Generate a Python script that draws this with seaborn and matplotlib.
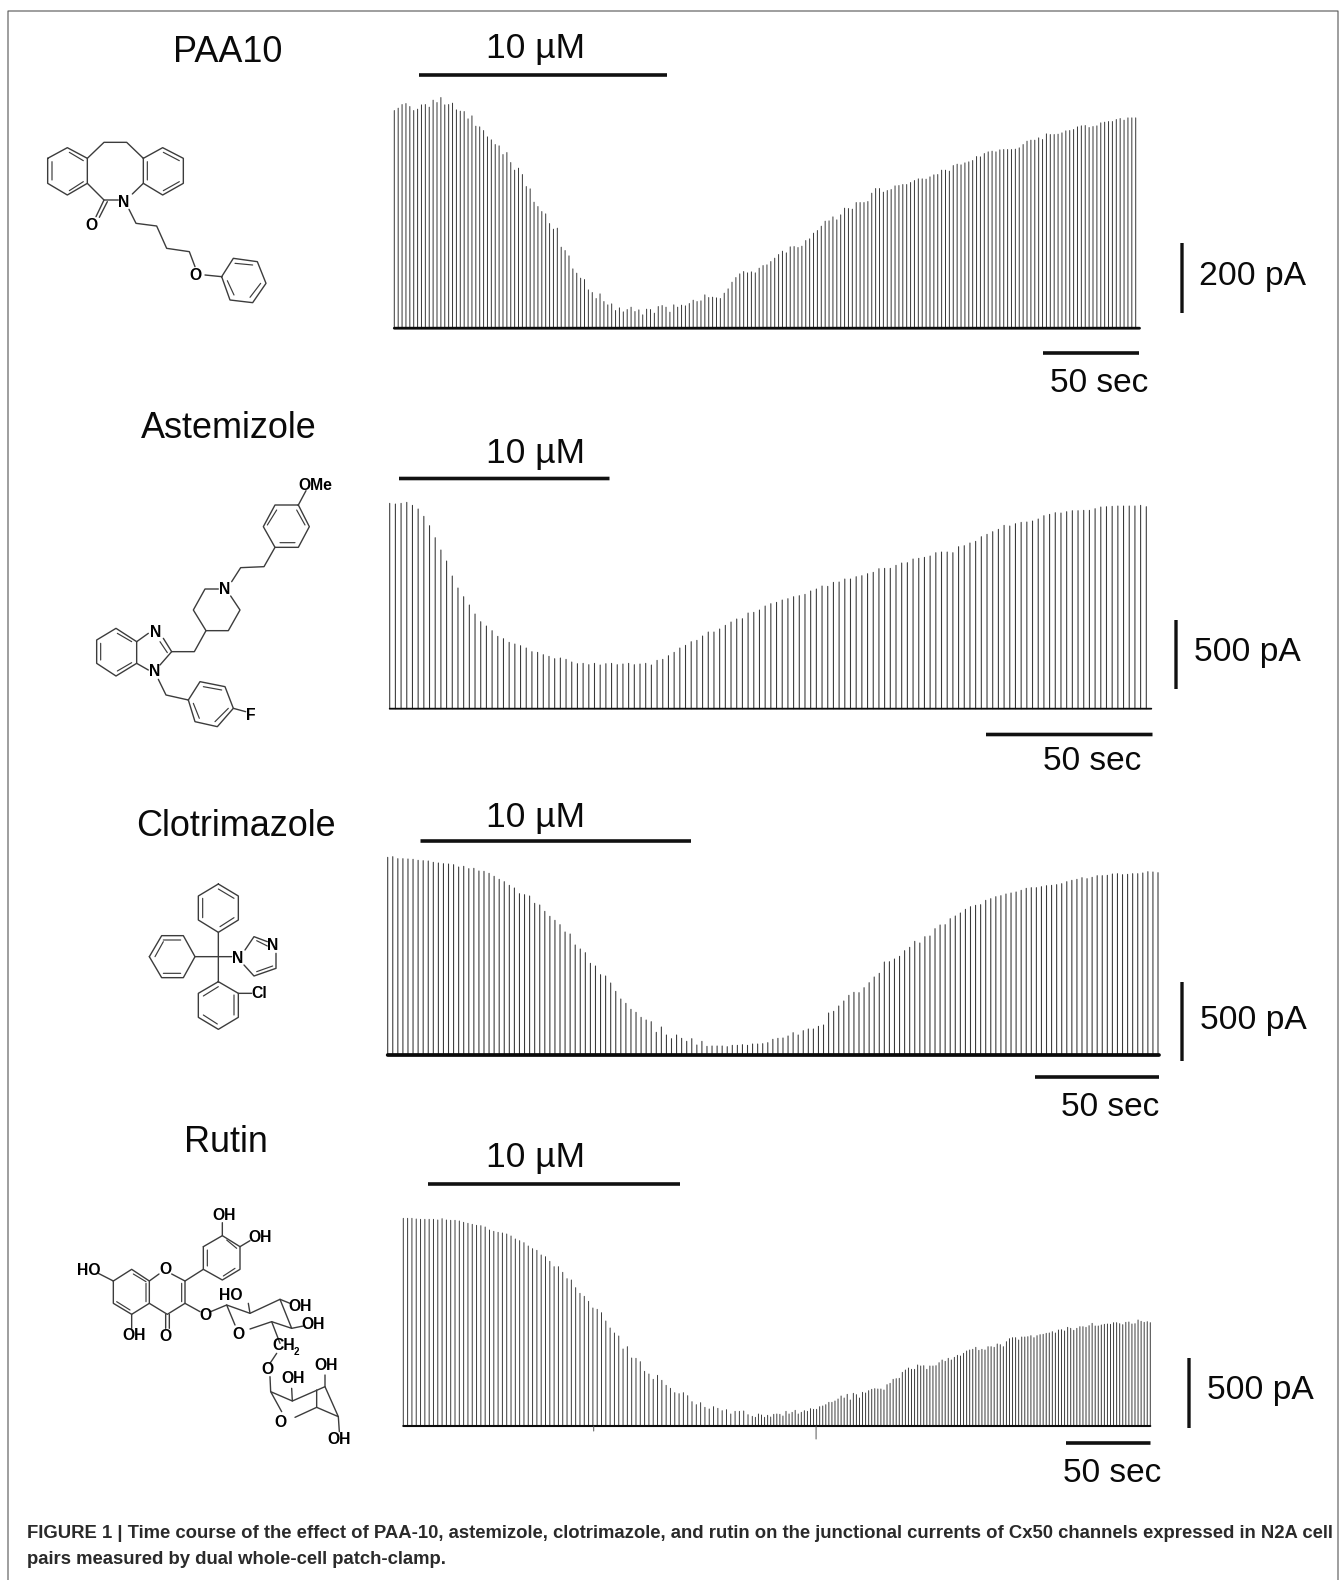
import numpy as np
import pandas as pd
import matplotlib
matplotlib.use("Agg")
import matplotlib.pyplot as plt
import seaborn as sns

# ---------- data: peak amplitudes read against each trace's calibration bar
# (amplitudes are in reading units; 210 units = the 200 pA bar in PAA10 etc.)
paa10_peaks = [653,660,671,674,665,653,657,670,671,663,684,677,692,670,671,675,655,651,650,628,637,606,604,593,574,565,551,547,521,527,497,474,480,461,425,418,378,365,350,343,314,297,300,243,233,217,178,165,150,146,115,107,89,103,80,70,73,53,61,49,56,63,50,55,40,57,56,45,65,68,63,48,70,63,69,67,74,84,80,82,100,92,93,91,89,105,118,138,152,163,170,166,169,166,180,
188,190,200,210,221,231,226,244,245,242,246,263,268,285,293,306,321,322,334,325,340,360,359,357,377,377,377,380,405,419,419,408,413,416,427,428,431,431,437,443,448,448,447,454,460,461,474,474,471,488,492,490,496,499,503,515,514,524,529,531,529,535,536,536,536,537,541,551,561,564,564,571,566,583,581,581,582,586,592,593,596,604,607,608,602,605,607,616,618,620,620,626,629,624,631,631,631]
astemizole_peaks = [616,614,616,619,610,599,577,549,513,476,443,398,362,336,311,284,261,248,234,217,210,199,194,189,182,171,169,162,157,150,152,148,140,135,136,132,136,131,135,136,132,134,136,132,134,136,131,145,148,159,169,182,190,201,205,218,230,230,239,250,260,269,270,287,289,296,
308,315,319,326,330,336,339,343,353,359,368,367,379,380,389,389,396,399,405,409,420,421,421,430,437,438,449,451,454,458,468,470,470,468,486,489,497,502,516,523,531,538,550,548,555,559,560,563,569,579,583,588,587,591,594,594,595,595,600,605,606,607,608,608,608,608,610,606]
clotrimazole_peaks = [593,595,589,589,588,587,584,583,582,578,576,574,573,571,564,566,559,560,552,551,545,536,527,520,509,501,484,481,477,455,450,431,416,404,391,369,363,330,318,307,275,267,241,237,216,191,168,155,137,128,113,105,100,68,84,60,49,60,50,41,49,30,41,26,27,27,27,25,29,29,31,29,33,33,34,37,
47,50,51,57,67,60,73,78,78,86,90,126,131,147,162,179,188,187,202,217,234,245,279,280,288,296,313,323,341,336,355,357,379,390,391,409,417,426,437,445,449,451,464,469,475,478,483,486,489,494,500,502,502,505,508,509,511,514,520,524,527,532,529,533,538,538,539,543,544,541,542,544,544,546,550,549,547]
rutin_slow_peaks = [623,623,623,621,620,620,620,620,618,622,618,617,617,615,611,608,605,602,601,597,588,584,581,579,576,570,561,556,550,540,532,527,513,508,494,478,478,461,442,438,415,398,389,374,354,350,340,315,294,279,270,231,238,204,203,193,164,156,140,152,137,122,113,100,97,100,91,73,64,70,56,51,58,53,46,49,36,44,44,45,34,29]
rutin_fast_peaks = [26,36,33,26,32,27,35,36,35,30,44,36,41,47,36,41,46,44,52,50,50,58,60,64,71,71,75,81,90,84,95,78,98,94,84,101,99,106,110,112,111,111,108,124,128,140,142,143,161,168,174,170,170,183,180,181,170,180,180,181,190,198,194,203,198,206,212,210,218,225,228,230,236,227,230,228,238,238,236,246,244,238,253,262,265,265,258,267,267,268,271,265,271,274,275,278,279,283,279,288,289,285,296,293,287,293,298,298,296,301,308,300,300,303,305,306,305,310,310,307,304,311,312,306,307,318,314,311,313,310]
rutin_artifact_times = [112.0, 242.8]
rutin_artifact_values = [-36, -93]

compound_names = ["PAA10", "Astemizole", "Clotrimazole", "Rutin"]
current_bars_pA = [200, 500, 500, 500]
bar_units = [210, 210, 237, 210]
durations_s = [386.0, 226.5, 310.6, 439.4]
rutin_slow_s = 205.3

sns.set_theme(style="white")
plt.rcParams["font.family"] = ["Liberation Sans", "DejaVu Sans"]
plt.rcParams["path.snap"] = False

W, H = 1344, 1580
fig = plt.figure(figsize=(W/100, H/100), dpi=100, facecolor="white")

# overlay in pixel coordinates for furniture
ov = fig.add_axes([0, 0, 1, 1], zorder=5)
ov.set_xlim(0, W); ov.set_ylim(H, 0); ov.axis("off"); ov.patch.set_alpha(0)


def spikes_frame(t, v):
    return pd.DataFrame({
        "t": np.repeat(t, 2),
        "I": np.column_stack([np.zeros(len(v)), v]).ravel(),
        "spike": np.repeat(np.arange(len(v)), 2),
    })


def trace(i, t, peaks, left, right, base, base_end, base_lw, lw=0.72, color="#3a3a3a"):
    pa_per_unit = current_bars_pA[i] / bar_units[i]
    v = np.asarray(peaks, float) * pa_per_unit
    h_px = 240.0
    ax = fig.add_axes([left/W, 1-base/H, (right-left)/W, h_px/H], zorder=2)
    ax.axis("off")
    df = spikes_frame(t, v)
    sns.lineplot(data=df, x="t", y="I", units="spike", estimator=None, sort=False,
                 color=color, lw=lw, ax=ax, legend=False, clip_on=False)
    bl = pd.DataFrame({"t": [0, base_end], "I": [0, 0]})
    sns.lineplot(data=bl, x="t", y="I", estimator=None, sort=False, color="#0a0a0a",
                 lw=base_lw, ax=ax, legend=False, clip_on=False)
    ax.set_xlim(0, durations_s[i])
    ax.set_ylim(0, h_px * 3 * pa_per_unit)
    ax.set_xlabel(""); ax.set_ylabel("")
    return ax


def uniform_t(peaks, dur):
    return np.arange(len(peaks)) * dur / (len(peaks) - 1)


trace(0, uniform_t(paa10_peaks, durations_s[0]), paa10_peaks, 394.3, 1135.7, 328.2, 388.0, 2.0)
trace(1, uniform_t(astemizole_peaks, durations_s[1]), astemizole_peaks, 389.7, 1146.3, 708.7, 228.0, 1.3, lw=0.78)
trace(2, uniform_t(clotrimazole_peaks, durations_s[2]), clotrimazole_peaks, 387.7, 1158.0, 1055.0, 311.0, 2.7, lw=0.78)
t_slow = np.arange(len(rutin_slow_peaks)) * rutin_slow_s / (len(rutin_slow_peaks) - 1)
t_fast = rutin_slow_s + (np.arange(len(rutin_fast_peaks)) + 1) * (durations_s[3] - rutin_slow_s) / len(rutin_fast_peaks)
ax_r = trace(3, np.concatenate([t_slow, t_fast]), rutin_slow_peaks + rutin_fast_peaks,
             403.3, 1150.3, 1426.0, 439.4, 1.5, lw=0.7)
art = pd.DataFrame({"t": np.repeat(rutin_artifact_times, 2),
                    "I": np.column_stack([np.zeros(2), rutin_artifact_values]).ravel(),
                    "spike": np.repeat([0, 1], 2)})
sns.lineplot(data=art, x="t", y="I", units="spike", estimator=None, sort=False,
             color="#555555", lw=0.7, ax=ax_r, legend=False, clip_on=False)
ax_r.set_xlabel(""); ax_r.set_ylabel("")

DY = 3
furniture = [
    # name x,y | drug bar x0,x1,y | text y | pA bar x,y0,y1 | pA text x,y | s bar x0,x1,y | s text x,y
    ((227.7, 49.5), (419, 667, 75), 46, (1182, 243, 313), (1199, 274), (1043, 1139, 353), (1099, 381)),
    ((229, 425), (399, 609.5, 478.5), 451, (1176, 620, 689), (1194, 650), (986, 1152.5, 734.5), (1092, 758.5)),
    ((236, 824), (420.5, 691, 841), 815, (1182, 982, 1061), (1200, 1017.5), (1035, 1159, 1077), (1110, 1104)),
    ((226, 1139.5), (428, 680, 1184), 1154.5, (1189, 1358, 1428), (1207, 1388), (1066, 1150.5, 1443), (1112, 1471)),
]
for i, (nm, db, ty, pb, pt, sb, st) in enumerate(furniture):
    ov.text(nm[0], nm[1]+DY, compound_names[i], fontsize=25.9, ha="center", va="center", color="#0a0a0a")
    ov.plot(db[:2], [db[2], db[2]], color="#111111", lw=2.6, solid_capstyle="butt")
    ov.text(535, ty+DY-0.5, "10 µM", fontsize=25.5, ha="center", va="center", color="#0a0a0a")
    ov.plot([pb[0], pb[0]], pb[1:], color="#111111", lw=2.4, solid_capstyle="butt")
    ov.text(pt[0], pt[1]+DY, f"{current_bars_pA[i]} pA", fontsize=24.2, ha="left", va="center", color="#0a0a0a")
    ov.plot(sb[:2], [sb[2], sb[2]], color="#111111", lw=2.6, solid_capstyle="butt")
    ov.text(st[0], st[1]+DY, "50 sec", fontsize=24.0, ha="center", va="center", color="#0a0a0a")

# page frame
frame_c = "#555555"
ov.plot([8, 8, 1338, 1338], [1580, 11, 11, 1580], color=frame_c, lw=0.8)

# caption
cap1 = "FIGURE 1 | Time course of the effect of PAA-10, astemizole, clotrimazole, and rutin on the junctional currents of Cx50 channels expressed in N2A cell"
cap2 = "pairs measured by dual whole-cell patch-clamp."
ov.text(27, 1533, cap1, fontsize=13.3, fontweight="bold", color="#2a2a2a", va="center", ha="left")
ov.text(27, 1559, cap2, fontsize=13.3, fontweight="bold", color="#2a2a2a", va="center", ha="left")


def mol(ox, oy, chains, inner, labels):
    c = "#3c3c3c"
    for ch in chains:
        xs = [ox + p[0]/3 for p in ch]; ys = [oy + p[1]/3 for p in ch]
        ov.plot(xs, ys, color=c, lw=1.0, solid_joinstyle="round")
    for a, b in inner:
        ov.plot([ox+a[0]/3, ox+b[0]/3], [oy+a[1]/3, oy+b[1]/3], color=c, lw=0.85)
    for s, x, y in labels:
        ov.text(ox+x/3, oy+y/3, s, fontsize=11.3, fontweight="bold", ha="center", va="center", color="#000000")


def closed(*p):
    return list(p) + [p[0]]


# PAA10
mol(30, 120,
    [closed((53,115),(112,83),(172,115),(172,190),(112,225),(53,190)),
     closed((340,115),(398,83),(460,115),(460,190),(398,225),(340,190)),
     [(172,115),(222,67),(290,67),(340,115)],
     [(172,190),(222,240),(265,240)], [(340,190),(307,222)],
     [(297,268),(318,310),(380,318),(410,385),(478,395),(495,440)],
     [(525,465),(575,470)], [(222,240),(198,290)], [(232,245),(208,292)],
     closed((575,470),(610,415),(682,425),(708,490),(668,548),(600,540))],
    [((66,125),(66,180)), ((118,97),(160,122)), ((118,212),(160,185)),
     ((352,125),(352,180)), ((400,97),(448,122)), ((400,212),(448,185)),
     ((615,430),(668,435)), ((692,490),(660,532)), ((592,482),(612,525))],
    [("N",282,248), ("O",495,465), ("O",185,315)])

# Astemizole
mol(80, 470,
    [closed((655,105),(585,105),(550,170),(585,232),(655,232),(688,170)),
     [(655,105),(678,62)], [(585,232),(552,290),(482,293),(455,335)],
     [(415,357),(375,357),(340,420),(378,482),(445,482),(480,420),(452,378)],
     [(378,482),(343,545),(275,545),(250,505)], [(205,490),(170,515)],
     [(170,580),(205,600)], [(240,585),(275,545)],
     closed((170,515),(108,475),(50,510),(50,580),(108,618),(170,580)),
     [(235,628),(258,675),(325,690)],
     closed((325,690),(360,635),(435,650),(460,715),(412,770),(345,755)),
     [(460,715),(497,725)]],
    [((590,120),(562,165)), ((600,218),(645,218)), ((650,120),(675,165)),
     ((262,548),(240,515)), ((112,490),(155,515)), ((62,520),(62,570)), ((112,603),(155,578)),
     ((370,650),(425,660)), ((445,715),(405,755)), ((340,700),(358,745))],
    [("OMe",705,45), ("N",435,360), ("N",228,488), ("N",225,605), ("F",513,735)])

# Clotrimazole
mol(130, 870,
    [closed((265,42),(325,78),(325,150),(265,187),(205,150),(205,78)), [(265,187),(265,335)],
     closed((58,260),(95,197),(160,197),(195,260),(160,323),(95,323)), [(195,260),(305,260)],
     closed((265,335),(325,370),(325,442),(265,478),(205,442),(205,370)), [(325,370),(365,370)],
     [(345,240),(372,200),(412,215)], [(438,250),(438,295),(372,318),(342,285)]],
    [((265,57),(312,85)), ((312,143),(270,170)), ((218,85),(218,143)),
     ((100,210),(152,210)), ((100,310),(152,310)), ((75,260),(100,215)),
     ((265,350),(220,378)), ((312,375),(312,435)), ((220,435),(262,462)),
     ((380,212),(412,228)), ((380,305),(428,288))],
    [("N",322,265), ("N",428,228), ("Cl",388,372)])

# Rutin
mol(60, 1200,
    [closed((160,243),(215,208),(268,243),(268,310),(215,343),(160,310)),
     [(115,220),(160,243)], [(215,343),(215,385)],
     [(268,243),(297,222)], [(335,222),(375,243),(375,310),(322,343),(268,310)],
     [(317,343),(317,385)], [(328,343),(328,385)],
     [(375,310),(420,335)], [(452,335),(500,315)],
     [(375,243),(430,208)],
     closed((430,140),(487,107),(540,140),(540,208),(487,240),(430,208)),
     [(487,107),(487,68)], [(540,140),(570,122)],
     [(525,375),(500,315),(570,340),(660,298),(695,385),(635,365),(570,387)],
     [(570,340),(565,310)], [(660,298),(690,310)], [(695,385),(730,378)],
     [(635,365),(660,430)], [(650,460),(630,490)], [(630,530),(632,575)],
     [(665,635),(632,575),(697,603),(795,560),(835,650),(770,622),(705,652)],
     [(697,603),(695,565)], [(795,560),(795,525)], [(770,570),(770,622)], [(835,650),(838,695)]],
    [((220,222),(258,245)), ((258,250),(258,305)), ((170,305),(210,330)),
     ((365,250),(365,305)), ((500,120),(530,145)), ((525,205),(490,228)), ((442,150),(442,198))],
    [("HO",85,212), ("OH",222,407), ("O",315,210), ("O",315,410), ("O",437,347),
     ("OH",492,45), ("OH",600,112), ("O",535,403), ("HO",512,285), ("OH",720,320), ("OH",760,373),
     ("CH",672,437), ("O",622,508), ("OH",698,535), ("OH",798,497), ("O",662,668), ("OH",838,720)])
ov.text(60+710/3, 1200+455/3, "2", fontsize=7, fontweight="bold", ha="center", va="center", color="#000000")

fig.savefig("out.png", dpi=100, facecolor="white")
